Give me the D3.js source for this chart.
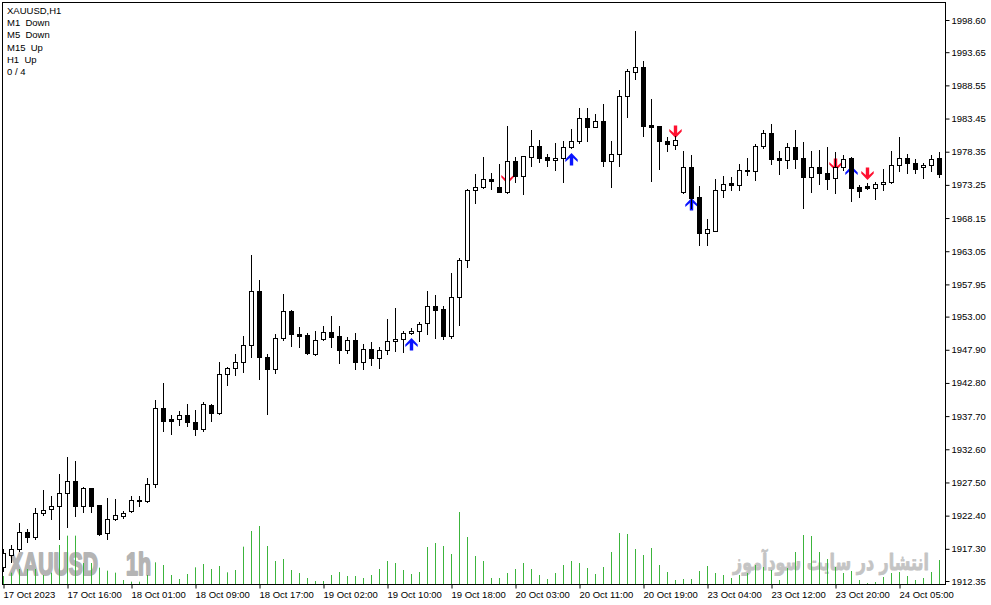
<!DOCTYPE html>
<html><head><meta charset="utf-8">
<script src="https://cdn.jsdelivr.net/npm/d3@7"></script>
<style>html,body{margin:0;padding:0;background:#fff;overflow:hidden}svg{display:block}</style>
</head><body>
<svg id="c" width="991" height="605"></svg>
<script>
// ---------- DATA ----------
const sessions = [["17 Oct",8,23],["18 Oct",1,23],["19 Oct",1,23],["20 Oct",1,23],["23 Oct",1,23],["24 Oct",1,10]];
const categories = [];
sessions.forEach(([d,a,b])=>{for(let h=a;h<=b;h++)categories.push(d+" "+String(h).padStart(2,"0")+":00");});

const opens=[1914.55,1916.30,1917.22,1919.83,1919.07,1922.76,1923.37,1923.83,1925.83,1927.68,
1923.83,1926.60,1923.98,1919.68,1921.83,1922.34,1923.06,1924.75,1924.60,1927.21,
1938.90,1937.18,1937.18,1937.82,1936.87,1935.79,1939.48,1938.13,1944.13,1945.05,
1945.97,1948.59,1956.89,1946.74,1944.90,1949.66,1953.86,1950.28,1950.12,1947.20,
1949.51,1950.58,1949.97,1947.91,1949.40,1946.06,1948.02,1946.68,1947.82,1949.20,
1949.51,1950.43,1950.74,1951.97,1954.63,1954.12,1950.09,1955.97,1961.67,1972.42,
1972.88,1974.11,1972.88,1972.20,1976.88,1974.66,1977.54,1979.18,1977.54,1977.03,
1977.38,1979.03,1979.95,1983.49,1982.20,1983.07,1976.97,1977.95,1986.87,1990.56,
1991.33,1982.46,1982.30,1979.95,1979.33,1972.11,1975.95,1971.39,1965.90,1966.21,
1972.42,1973.49,1973.28,1975.43,1975.34,1979.23,1981.23,1977.38,1977.12,1979.03,
1977.34,1974.42,1975.95,1975.03,1974.26,1975.95,1977.34,1972.88,1973.08,1972.72,
1973.34,1973.65,1976.26,1977.34,1976.57,1975.95,1976.26,1977.34];
const highs=[1917.27,1917.88,1921.22,1920.30,1923.62,1926.34,1925.42,1928.80,1931.37,1930.80,
1926.75,1926.65,1924.03,1925.06,1924.95,1923.11,1925.37,1925.37,1928.23,1940.18,
1942.74,1937.84,1938.44,1939.56,1938.64,1939.82,1939.56,1945.97,1945.30,1947.25,
1949.97,1962.47,1958.63,1947.25,1950.32,1956.47,1954.01,1951.35,1950.43,1950.83,
1951.55,1953.09,1951.55,1949.82,1950.48,1948.79,1949.09,1948.33,1952.63,1954.32,
1950.74,1951.20,1952.17,1956.93,1956.32,1954.63,1959.66,1961.96,1972.57,1974.88,
1977.54,1975.03,1976.46,1982.30,1977.58,1977.70,1981.69,1980.15,1978.00,1979.64,
1979.95,1981.80,1985.03,1985.03,1984.10,1985.64,1979.95,1987.79,1991.02,1996.86,
1992.25,1986.41,1982.35,1980.61,1980.72,1978.41,1977.85,1973.08,1968.00,1974.15,
1974.62,1974.46,1976.41,1977.34,1979.54,1981.69,1982.61,1978.41,1979.64,1981.69,
1979.80,1978.46,1978.61,1979.07,1978.26,1977.85,1977.54,1973.23,1973.49,1973.65,
1975.69,1978.46,1980.57,1978.00,1977.23,1976.57,1977.85,1978.26];
const lows=[1913.89,1915.31,1917.01,1918.39,1918.76,1922.49,1921.93,1918.85,1920.70,1922.39,
1922.91,1922.91,1919.46,1918.85,1921.68,1921.99,1922.99,1923.83,1924.49,1926.75,
1935.46,1935.02,1936.41,1936.22,1934.84,1935.38,1936.99,1938.10,1942.44,1943.97,
1944.53,1946.83,1943.36,1938.07,1944.37,1949.40,1948.48,1948.28,1947.25,1947.15,
1949.45,1948.37,1945.91,1947.45,1944.99,1944.99,1945.56,1945.14,1947.30,1947.76,
1947.60,1950.32,1949.29,1950.28,1949.76,1949.48,1949.78,1951.78,1960.58,1970.42,
1972.80,1972.57,1972.15,1972.05,1973.74,1971.80,1976.20,1976.81,1976.20,1975.58,
1973.74,1978.95,1979.74,1979.95,1982.15,1976.20,1972.97,1976.20,1983.73,1989.48,
1980.81,1973.89,1975.74,1978.51,1978.72,1972.05,1969.74,1964.01,1964.01,1966.15,
1971.43,1972.46,1972.42,1974.77,1973.95,1978.88,1976.50,1974.92,1975.80,1975.80,
1969.74,1972.08,1973.34,1972.62,1971.96,1975.54,1970.82,1971.34,1972.69,1971.13,
1972.46,1973.60,1975.43,1975.03,1975.03,1974.26,1975.43,1974.51];
const closes=[1916.61,1917.22,1919.83,1919.07,1922.76,1923.22,1923.83,1925.83,1927.68,1923.83,
1926.60,1923.83,1919.62,1921.83,1922.45,1922.76,1924.75,1924.60,1927.21,1938.90,
1936.99,1936.99,1937.82,1936.84,1935.76,1939.51,1938.13,1944.13,1945.05,1945.97,
1948.59,1956.89,1946.74,1944.90,1949.66,1953.81,1950.28,1950.06,1947.45,1949.35,
1950.58,1949.91,1947.86,1949.40,1946.06,1948.02,1946.68,1947.86,1949.25,1949.55,
1950.48,1950.79,1951.86,1954.58,1954.06,1950.09,1955.97,1961.67,1972.42,1972.88,
1974.11,1973.89,1972.20,1976.88,1974.66,1977.64,1979.18,1977.43,1977.03,1977.38,
1979.03,1979.95,1983.49,1982.20,1983.07,1976.97,1977.95,1986.87,1990.71,1991.33,
1982.35,1982.20,1979.95,1979.49,1980.10,1975.95,1971.28,1965.90,1966.42,1972.42,
1973.34,1973.23,1975.49,1975.58,1979.23,1981.18,1977.28,1977.12,1979.03,1977.28,
1974.51,1975.95,1975.03,1974.20,1975.95,1977.18,1972.82,1972.36,1972.72,1973.34,
1973.69,1976.31,1977.34,1976.57,1975.74,1976.31,1977.18,1974.88];
const volumes=[1200,1700,2250,2250,2250,1350,1700,5850,7250,7250,
3150,3150,2450,2000,1700,600,350,350,1350,3250,
2850,1350,750,1500,2500,3000,2250,2700,1750,2100,
5600,7950,8700,5700,3450,3750,2100,1650,900,450,
450,1350,1800,1200,1200,900,1350,2250,3450,3150,
2100,1500,1800,5550,6150,5700,4500,10800,7050,4200,
3450,900,900,1650,2250,3150,2250,1350,750,1650,
2850,3450,3150,2400,1500,2550,4800,7650,7500,5250,
4350,5400,2850,1800,600,750,750,1950,2700,1650,
1350,900,1350,1650,2850,2550,2100,600,2400,4800,
7350,7200,4800,3750,2550,1650,1950,600,150,300,
1050,1650,1800,1200,600,900,1800,3600];

const upArrowCats=["19 Oct 13:00","20 Oct 10:00","23 Oct 02:00","23 Oct 22:00"];
const upArrowPrices=[1949.71,1978.15,1971.23,1976.15];
const downArrowCats=["20 Oct 02:00","20 Oct 23:00","23 Oct 20:00","24 Oct 01:00"];
const downArrowPrices=[1973.39,1980.46,1975.38,1974.00];

const priceTicks=[1998.60,1993.65,1988.55,1983.45,1978.35,1973.25,1968.15,1963.05,1957.95,1953.00,1947.90,1942.80,1937.70,1932.60,1927.50,1922.40,1917.30,1912.35];
const timeTicks=["17 Oct 08:00","17 Oct 16:00","18 Oct 01:00","18 Oct 09:00","18 Oct 17:00","19 Oct 02:00","19 Oct 10:00","19 Oct 18:00","20 Oct 03:00","20 Oct 11:00","20 Oct 19:00","23 Oct 04:00","23 Oct 12:00","23 Oct 20:00","24 Oct 05:00"];
const timeTickLabels=["17 Oct 2023","17 Oct 16:00","18 Oct 01:00","18 Oct 09:00","18 Oct 17:00","19 Oct 02:00","19 Oct 10:00","19 Oct 18:00","20 Oct 03:00","20 Oct 11:00","20 Oct 19:00","23 Oct 04:00","23 Oct 12:00","23 Oct 20:00","24 Oct 05:00"];
const infoLines=["XAUUSD,H1","M1  Down","M5  Down","M15  Up","H1  Up","0 / 4"];

// ---------- CHART ----------
const svg=d3.select("#c");
const L=2.5,T=2.5,R=945.5,B=584.5;
const x=d3.scalePoint().domain(categories).range([3.5,939.5]);
const y=d3.scaleLinear().domain([1912.35,1998.60]).range([581,20]);
const yv=d3.scaleLinear().domain([0,15000]).range([584,484]);

svg.append("rect").attr("width",991).attr("height",605).attr("fill","#fff");
svg.append("defs").append("clipPath").attr("id","plot").append("rect")
  .attr("x",L+0.5).attr("y",T+0.5).attr("width",R-L-1).attr("height",B-T-1);
const plot=svg.append("g").attr("clip-path","url(#plot)");

// watermarks
function fitText(g,txt,x0,base,w,size,fill,family,weight,sw){
  const t=g.append("text").attr("x",0).attr("y",0).attr("font-family",family).attr("font-weight",weight)
    .attr("font-size",size).attr("fill",fill).attr("stroke",fill).attr("stroke-width",sw)
    .attr("stroke-linejoin","round").text(txt);
  const len=t.node().getComputedTextLength();
  t.attr("transform",`translate(${x0},${base}) scale(${w/len},1)`);
  return t;
}
fitText(plot,"XAUUSD",9,575,89,32,"#b4b4b4","Liberation Sans","bold",2);
fitText(plot,"1h",126,575,25,32,"#b4b4b4","Liberation Sans","bold",2);
fitText(plot,"انتشار در سایت سودآموز",733,570,196,22,"#c4c4c4","DejaVu Sans","bold",0.8);

// volumes
plot.append("g").selectAll("line").data(volumes).join("line")
  .attr("x1",(d,i)=>x(categories[i])).attr("x2",(d,i)=>x(categories[i]))
  .attr("y1",yv(0)).attr("y2",d=>yv(d))
  .attr("stroke","#3cb43c").attr("stroke-width",1);

// arrows
const upPath="M0,0 L6.2,6.6 L6.2,9 L1.7,4.9 L1.7,12.5 L-1.7,12.5 L-1.7,4.9 L-6.2,9 L-6.2,6.6 Z";
const ag=plot.append("g");
upArrowCats.forEach((c,k)=>{
  ag.append("path").attr("d",upPath).attr("fill","#0a14ff")
    .attr("transform",`translate(${x(c)},${y(upArrowPrices[k])})`);
});
downArrowCats.forEach((c,k)=>{
  ag.append("path").attr("d",upPath).attr("fill","#ff1030")
    .attr("transform",`translate(${x(c)},${y(downArrowPrices[k])}) scale(1,-1)`);
});

// candles
const cg=plot.append("g");
categories.forEach((c,i)=>{
  const cx=x(c);
  cg.append("line").attr("x1",cx).attr("x2",cx)
    .attr("y1",Math.round(y(highs[i]))).attr("y2",Math.round(y(lows[i]))+1)
    .attr("stroke","#000").attr("stroke-width",1);
  const bull=closes[i]>=opens[i];
  const top=Math.round(y(Math.max(opens[i],closes[i])));
  const bot=Math.round(y(Math.min(opens[i],closes[i])));
  const h=bot-top;
  if(h<=1){
    cg.append("rect").attr("x",cx-2.5).attr("y",top).attr("width",5).attr("height",2).attr("fill","#000");
  } else {
    cg.append("rect").attr("x",cx-2).attr("y",top+0.5).attr("width",4).attr("height",h)
      .attr("fill",bull?"#fff":"#000").attr("stroke","#000").attr("stroke-width",1);
  }
});

// frame
svg.append("rect").attr("x",L).attr("y",T).attr("width",R-L).attr("height",B-T)
  .attr("fill","none").attr("stroke","#000").attr("stroke-width",1);

// price axis
const ya=svg.append("g").attr("transform",`translate(${R},0)`)
  .call(d3.axisRight(y).tickValues(priceTicks).tickSize(4).tickPadding(2).tickFormat(d=>d.toFixed(2)));
ya.select(".domain").remove();
ya.selectAll("text").attr("font-family","Liberation Sans").attr("font-size",9.5).attr("fill","#000");
ya.selectAll("line").attr("stroke","#000");

// time axis
const xa=svg.append("g").attr("transform",`translate(0,${B})`)
  .call(d3.axisBottom(x).tickValues(timeTicks).tickSize(4).tickPadding(3).tickFormat((d,i)=>timeTickLabels[i]));
xa.select(".domain").remove();
xa.selectAll("text").attr("font-family","Liberation Sans").attr("font-size",9.5).attr("fill","#000")
  .attr("text-anchor","start").attr("x",-0.5);
xa.selectAll("line").attr("stroke","#000");

// info text
svg.append("g").selectAll("text").data(infoLines).join("text")
  .attr("x",7).attr("y",(d,i)=>14+i*12.2).attr("font-family","Liberation Sans").attr("font-size",9.5)
  .attr("fill","#000").attr("xml:space","preserve").style("white-space","pre").text(d=>d);
</script>
</body></html>
